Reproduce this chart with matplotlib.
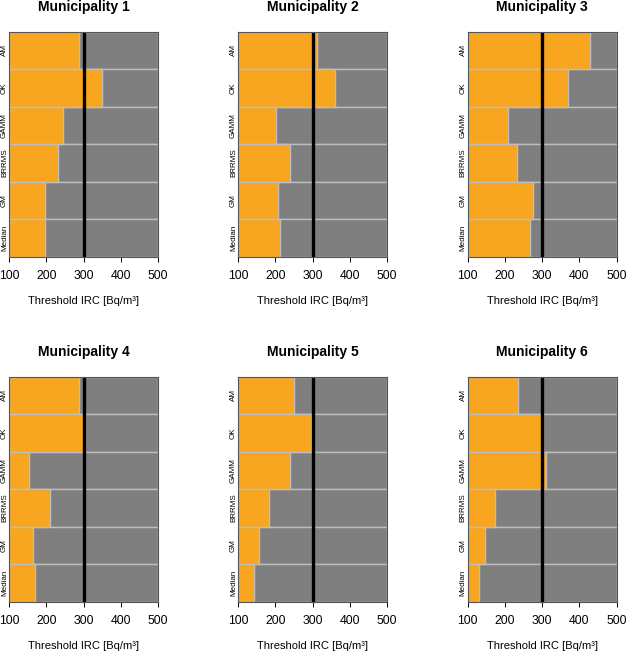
import matplotlib.pyplot as plt

plt.rcParams['font.family'] = ['Liberation Sans', 'DejaVu Sans']

methods = ['AM', 'OK', 'GAMM', 'BRRMS', 'GM', 'Median']
titles = ['Municipality 1', 'Municipality 2', 'Municipality 3',
          'Municipality 4', 'Municipality 5', 'Municipality 6']

# threshold values per municipality, order follows methods (top to bottom)
m1 = [289, 351, 244, 232, 197, 197]
m2 = [312, 361, 202, 240, 208, 214]
m3 = [429, 368, 209, 232, 274, 267]
m4 = [289, 303, 154, 210, 165, 169]
m5 = [251, 296, 240, 183, 157, 144]
m6 = [235, 303, 311, 174, 147, 130]
values = [m1, m2, m3, m4, m5, m6]

xmin, xmax = 100, 500
ref_line = 300
xticks = [100, 200, 300, 400, 500]

orange = '#F8A51F'
grey = '#7F7F7F'
edge = '#BEBEBE'

W, H = 626, 653
fig = plt.figure(figsize=(W / 100, H / 100), dpi=100)

lefts = [9.0, 238, 467.7]
tops = [31.7, 376.7]
aw, ah = 149, 225

for i, (title, vals) in enumerate(zip(titles, values)):
    r, c = divmod(i, 3)
    ax = fig.add_axes([lefts[c] / W, 1 - (tops[r] + ah) / H, aw / W, ah / H])
    ypos = list(range(len(methods)))[::-1]
    ax.barh(ypos, [xmax - xmin] * len(methods), left=xmin, height=1.0,
            color=grey, edgecolor=edge, linewidth=1.0)
    ax.barh(ypos, [v - xmin for v in vals], left=xmin, height=1.0,
            color=orange, edgecolor=edge, linewidth=1.0)
    ax.axvline(ref_line, color='black', linewidth=2.4)
    ax.set_xlim(xmin, xmax)
    ax.set_ylim(-0.5, len(methods) - 0.5)
    ax.set_yticks(ypos)
    ax.set_yticklabels(methods, rotation=90, va='center', fontsize=5.8)
    ax.set_xticks(xticks)
    ax.tick_params(axis='y', length=0, pad=0.8)
    ax.tick_params(axis='x', length=3.6, width=0.7, pad=6, labelsize=8.8)
    for s in ax.spines.values():
        s.set_color('#555555')
        s.set_linewidth(0.8)
    ax.set_title(title, fontsize=10, fontweight='bold', pad=15)
    ax.set_xlabel('Threshold IRC [Bq/m³]', fontsize=8, labelpad=10)

fig.savefig('out.png', dpi=100)
